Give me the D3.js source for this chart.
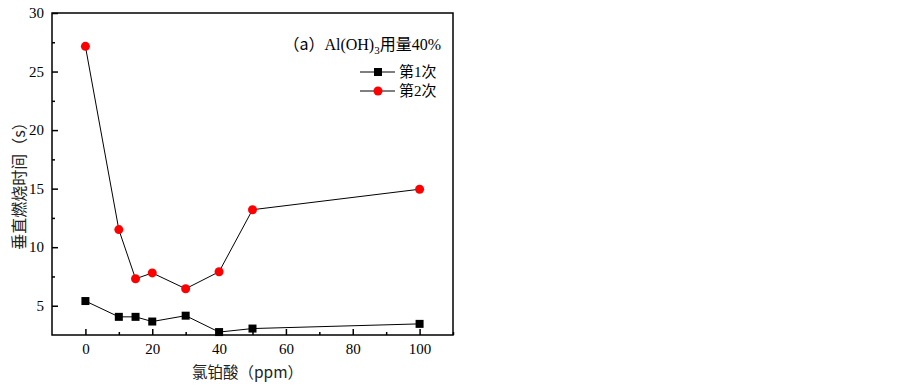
<!DOCTYPE html>
<html>
<head>
<meta charset="utf-8">
<script src="https://d3js.org/d3.v7.min.js"></script>
<style>
  body { margin: 0; background: #fff; }
  .tick text { font-family: "Liberation Serif", "Times New Roman", serif; font-size: 15px; fill: #000; }
  .cjk { font-family: "Noto Sans CJK SC", sans-serif; }
</style>
</head>
<body>
<svg id="chart" width="903" height="387"></svg>
<script>
// chart data
var ppm = [0, 10, 15, 20, 30, 40, 50, 100];
var run1 = [5.4, 4.05, 4.05, 3.65, 4.15, 2.75, 3.05, 3.45];
var run2 = [27.15, 11.5, 7.3, 7.8, 6.45, 7.9, 13.2, 14.95];
var seriesNames = ["第1次", "第2次"];
var xTicks = [0, 20, 40, 60, 80, 100];
var yTicks = [5, 10, 15, 20, 25, 30];

var svg = d3.select("#chart");
// plot box (note: "top" is reserved on window, so use pTop)
var pLeft = 52, pRight = 453, pTop = 13, pBottom = 335;

var x = d3.scaleLinear().domain([-10, 110]).range([pLeft, pRight]);
var y = d3.scaleLinear().domain([2.5, 30]).range([pBottom, pTop]);

// frame
svg.append("rect")
  .attr("x", pLeft).attr("y", pTop)
  .attr("width", pRight - pLeft).attr("height", pBottom - pTop)
  .attr("fill", "none").attr("stroke", "#000").attr("stroke-width", 1.5);

// axes with inward ticks
svg.append("g").attr("transform", "translate(0," + pBottom + ")")
  .call(d3.axisBottom(x).tickValues(xTicks).tickSize(-6).tickPadding(8));
svg.append("g").attr("transform", "translate(0," + pBottom + ")")
  .call(d3.axisBottom(x).tickValues(d3.range(10, 111, 20)).tickSize(-3).tickFormat(""));

svg.append("g").attr("transform", "translate(" + pLeft + ",0)")
  .call(d3.axisLeft(y).tickValues(yTicks).tickSize(-6).tickPadding(8));
svg.append("g").attr("transform", "translate(" + pLeft + ",0)")
  .call(d3.axisLeft(y).tickValues(d3.range(7.5, 30, 5)).tickSize(-3).tickFormat(""));

svg.selectAll(".domain").remove();
svg.selectAll(".tick line").attr("stroke", "#000").attr("stroke-width", 1.5);

// lines
var line = d3.line().x(function(d, i) { return x(ppm[i]); }).y(function(d) { return y(d); });
[run1, run2].forEach(function(s) {
  svg.append("path").datum(s).attr("d", line)
    .attr("fill", "none").attr("stroke", "#000").attr("stroke-width", 1);
});

// markers
svg.selectAll("rect.m1").data(run1).enter().append("rect")
  .attr("class", "m1")
  .attr("x", function(d, i) { return x(ppm[i]) - 4; })
  .attr("y", function(d) { return y(d) - 4; })
  .attr("width", 8).attr("height", 8).attr("fill", "#000");

svg.selectAll("circle.m2").data(run2).enter().append("circle")
  .attr("class", "m2")
  .attr("cx", function(d, i) { return x(ppm[i]); })
  .attr("cy", function(d) { return y(d); })
  .attr("r", 4.5).attr("fill", "#ff0000");

// axis titles
svg.append("text").attr("class", "cjk")
  .attr("x", 192).attr("y", 378)
  .attr("font-size", 15.5).attr("fill", "#222")
  .text("氯铂酸（ppm）");

svg.append("text").attr("class", "cjk")
  .attr("transform", "translate(25,182) rotate(-90)")
  .attr("text-anchor", "middle").attr("font-size", 16).attr("fill", "#222")
  .text("垂直燃烧时间（s）");

// legend
var title = svg.append("text")
  .attr("x", 441).attr("y", 50).attr("text-anchor", "end")
  .attr("font-size", 16).attr("font-family", "Liberation Serif, serif");
title.append("tspan").attr("font-family", "Noto Sans CJK SC").text("（a）");
title.append("tspan").text("Al(OH)");
title.append("tspan").attr("font-size", 11).attr("dy", 4).text("3");
title.append("tspan").attr("dy", -4).attr("font-family", "Noto Sans CJK SC").text("用量");
title.append("tspan").text("40%");

seriesNames.forEach(function(name, i) {
  var ly = 72 + i * 19;
  var g = svg.append("g");
  g.append("line").attr("x1", 360).attr("x2", 395).attr("y1", ly).attr("y2", ly)
    .attr("stroke", "#000").attr("stroke-width", 1);
  if (i === 0) {
    g.append("rect").attr("x", 374).attr("y", ly - 4).attr("width", 8).attr("height", 8).attr("fill", "#000");
  } else {
    g.append("circle").attr("cx", 378).attr("cy", ly).attr("r", 4.5).attr("fill", "#ff0000");
  }
  var t = g.append("text").attr("x", 399).attr("y", ly + 5).attr("font-size", 15);
  t.append("tspan").attr("font-family", "Noto Sans CJK SC").text(name.slice(0, 1));
  t.append("tspan").attr("font-family", "Liberation Serif, serif").text(name.slice(1, 2));
  t.append("tspan").attr("font-family", "Noto Sans CJK SC").text(name.slice(2));
});
</script>
</body>
</html>
